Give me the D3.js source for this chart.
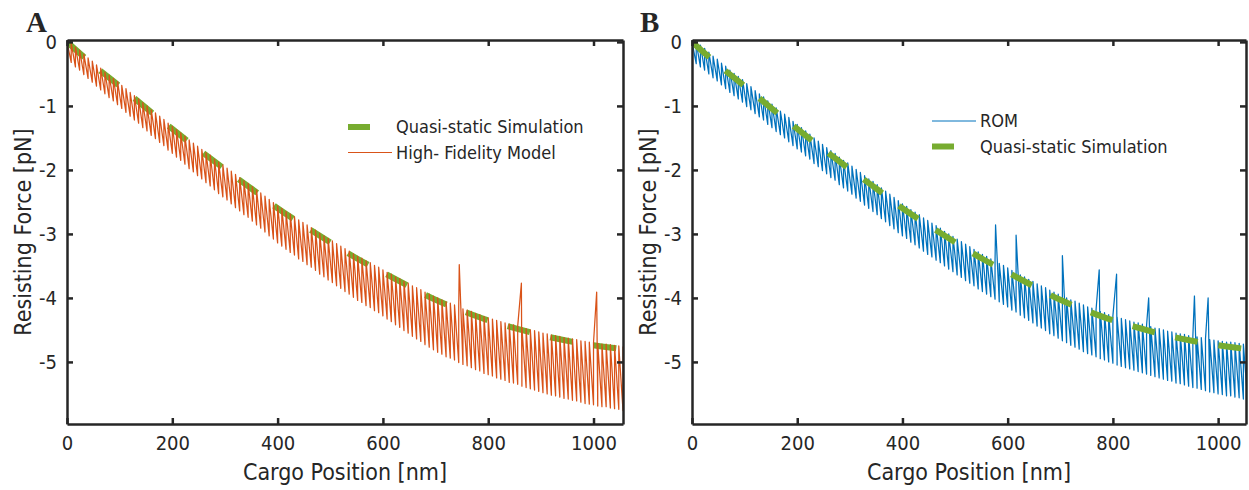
<!DOCTYPE html>
<html><head><meta charset="utf-8">
<script src="https://cdn.jsdelivr.net/npm/d3@7"></script>
<style>
body{margin:0;background:#fff}
svg{display:block}
text{font-family:'DejaVu Sans Condensed','DejaVu Sans',sans-serif;font-stretch:condensed;fill:#262626}
</style>
</head><body>
<svg id="chart" width="1249" height="490"></svg>
<script>
// ---------- data ----------
const stepNm = 8;   // motor step between teeth of the sawtooth
const xTicks = [0, 200, 400, 600, 800, 1000];
const xTickLabels = ["0", "200", "400", "600", "800", "1000"];
const yTicks = [0, -1, -2, -3, -4, -5];
const yTickLabels = ["0", "-1", "-2", "-3", "-4", "-5"];
const xLabel = "Cargo Position [nm]";
const yLabel = "Resisting Force [pN]";

const qsPosition = [0, 50, 100, 150, 200, 250, 300, 350, 400, 450, 500, 550, 600, 650, 700, 750, 800, 850, 900, 950, 1000, 1056];
const qsForce = [0, -0.36, -0.69, -1.03, -1.36, -1.68, -1.99, -2.29, -2.6, -2.87, -3.13, -3.38, -3.6, -3.82, -4.03, -4.2, -4.35, -4.47, -4.58, -4.67, -4.74, -4.8];

// High-fidelity model: force right after each step (top) and just before it (bottom)
const hfTop = [0,-0.02,-0.08,-0.13,-0.19,-0.25,-0.30,-0.36,-0.41,-0.47,
-0.52,-0.57,-0.62,-0.68,-0.73,-0.79,-0.84,-0.89,-0.95,-1.00,
-1.06,-1.11,-1.16,-1.21,-1.27,-1.32,-1.37,-1.42,-1.47,-1.53,
-1.58,-1.63,-1.68,-1.73,-1.77,-1.83,-1.88,-1.92,-1.97,-2.02,
-2.07,-2.12,-2.17,-2.21,-2.26,-2.31,-2.36,-2.41,-2.46,-2.51,
-2.56,-2.60,-2.65,-2.69,-2.73,-2.78,-2.82,-2.86,-2.90,-2.94,
-2.99,-3.03,-3.07,-3.11,-3.15,-3.19,-3.23,-3.27,-3.31,-3.35,
-3.38,-3.42,-3.45,-3.49,-3.52,-3.56,-3.60,-3.63,-3.67,-3.70,
-3.74,-3.77,-3.81,-3.84,-3.87,-3.91,-3.94,-3.97,-4.00,-4.03,
-4.06,-4.08,-4.11,-4.14,-4.17,-4.19,-4.21,-4.24,-4.26,-4.29,
-4.31,-4.33,-4.35,-4.37,-4.39,-4.41,-4.42,-4.44,-4.46,-4.48,
-4.50,-4.51,-4.53,-4.55,-4.56,-4.58,-4.59,-4.60,-4.62,-4.63,
-4.64,-4.65,-4.67,-4.68,-4.69,-4.70,-4.71,-4.72,-4.72,-4.73,
-4.74,-4.75,-4.76];
const hfBottom = [0,-0.32,-0.39,-0.44,-0.51,-0.57,-0.63,-0.69,-0.75,-0.81,
-0.87,-0.92,-0.98,-1.04,-1.10,-1.16,-1.22,-1.27,-1.34,-1.39,
-1.46,-1.51,-1.57,-1.62,-1.69,-1.74,-1.80,-1.85,-1.91,-1.98,
-2.03,-2.09,-2.14,-2.20,-2.25,-2.31,-2.37,-2.42,-2.47,-2.53,
-2.59,-2.64,-2.70,-2.74,-2.80,-2.86,-2.91,-2.97,-3.03,-3.08,
-3.14,-3.19,-3.24,-3.29,-3.33,-3.39,-3.43,-3.48,-3.52,-3.57,
-3.63,-3.67,-3.72,-3.76,-3.81,-3.85,-3.90,-3.94,-3.99,-4.04,
-4.07,-4.12,-4.15,-4.20,-4.23,-4.28,-4.33,-4.37,-4.42,-4.46,
-4.51,-4.55,-4.60,-4.64,-4.68,-4.73,-4.77,-4.81,-4.85,-4.88,
-4.92,-4.94,-4.97,-5.01,-5.04,-5.06,-5.09,-5.12,-5.14,-5.18,
-5.20,-5.22,-5.25,-5.27,-5.29,-5.32,-5.33,-5.35,-5.38,-5.40,
-5.42,-5.44,-5.46,-5.48,-5.50,-5.52,-5.53,-5.55,-5.57,-5.58,
-5.60,-5.61,-5.63,-5.65,-5.66,-5.67,-5.69,-5.70,-5.70,-5.72,
-5.73,-5.74,-5.76];
const hfSpikePos = [745, 863, 1006];
const hfSpikeForce = [-3.48, -3.77, -3.91];

// ROM
const romTop = [0,-0.01,-0.05,-0.10,-0.16,-0.22,-0.27,-0.33,-0.38,-0.44,
-0.49,-0.54,-0.59,-0.65,-0.70,-0.76,-0.81,-0.86,-0.92,-0.97,
-1.03,-1.08,-1.13,-1.18,-1.24,-1.29,-1.34,-1.39,-1.44,-1.50,
-1.55,-1.60,-1.65,-1.70,-1.74,-1.80,-1.85,-1.89,-1.94,-1.99,
-2.04,-2.09,-2.14,-2.18,-2.23,-2.28,-2.33,-2.38,-2.43,-2.48,
-2.53,-2.57,-2.62,-2.66,-2.70,-2.75,-2.79,-2.83,-2.87,-2.91,
-2.96,-3.00,-3.04,-3.08,-3.12,-3.16,-3.20,-3.24,-3.28,-3.32,
-3.35,-3.39,-3.42,-3.46,-3.49,-3.53,-3.57,-3.60,-3.64,-3.67,
-3.71,-3.74,-3.78,-3.81,-3.84,-3.88,-3.91,-3.94,-3.97,-4.00,
-4.03,-4.05,-4.08,-4.11,-4.14,-4.16,-4.18,-4.21,-4.23,-4.26,
-4.28,-4.30,-4.32,-4.34,-4.36,-4.38,-4.39,-4.41,-4.43,-4.45,
-4.47,-4.48,-4.50,-4.52,-4.53,-4.55,-4.56,-4.57,-4.59,-4.60,
-4.61,-4.62,-4.64,-4.65,-4.66,-4.67,-4.68,-4.69,-4.69,-4.70,
-4.71,-4.72,-4.73];
const romBottom = [0,-0.34,-0.39,-0.44,-0.50,-0.56,-0.61,-0.67,-0.73,-0.79,
-0.84,-0.89,-0.94,-1.01,-1.06,-1.12,-1.17,-1.22,-1.29,-1.34,
-1.40,-1.45,-1.50,-1.56,-1.62,-1.67,-1.72,-1.78,-1.83,-1.90,
-1.95,-2.01,-2.06,-2.12,-2.16,-2.23,-2.28,-2.33,-2.38,-2.44,
-2.49,-2.55,-2.60,-2.65,-2.70,-2.76,-2.81,-2.87,-2.92,-2.98,
-3.03,-3.07,-3.13,-3.17,-3.22,-3.27,-3.32,-3.36,-3.41,-3.45,
-3.50,-3.55,-3.59,-3.64,-3.68,-3.73,-3.77,-3.81,-3.86,-3.90,
-3.94,-3.98,-4.02,-4.06,-4.10,-4.14,-4.19,-4.22,-4.27,-4.31,
-4.35,-4.39,-4.44,-4.47,-4.51,-4.56,-4.59,-4.63,-4.67,-4.70,
-4.74,-4.77,-4.80,-4.84,-4.87,-4.89,-4.92,-4.95,-4.97,-5.00,
-5.02,-5.05,-5.07,-5.09,-5.11,-5.13,-5.15,-5.17,-5.19,-5.21,
-5.23,-5.25,-5.27,-5.29,-5.30,-5.33,-5.34,-5.36,-5.38,-5.40,
-5.41,-5.43,-5.45,-5.47,-5.48,-5.50,-5.51,-5.53,-5.53,-5.55,
-5.56,-5.58,-5.59];
const romSpikePos = [577, 616, 704, 774, 807, 868, 955, 981];
const romSpikeForce = [-2.86, -3.02, -3.34, -3.56, -3.63, -4.0, -3.97, -4.0];

// ---------- drawing ----------
const COL = {orange:"#D95319", blue:"#0072BD", green:"#77AC30", axis:"#262626"};
const svg = d3.select("#chart");

function sawPoints(top, bottom, sPos, sVal){
  const pts = [[0, top[0]]];
  for (let i = 1; i < top.length; i++){
    pts.push([i*stepNm, bottom[i]]);
    pts.push([i*stepNm, top[i]]);
  }
  sPos.forEach((sx, k) => {
    let idx = pts.findIndex(p => p[0] > sx);
    if (idx < 0) idx = pts.length;
    pts.splice(idx, 0, [sx, sVal[k]]);
  });
  return pts;
}

function panel(cfg){
  const x = d3.scaleLinear().domain([0, cfg.xmax]).range([cfg.left, cfg.right]);
  const y = d3.scaleLinear().domain([-5.97, 0.03]).range([424, 40]);
  const g = svg.append("g");
  const clipId = "clip" + cfg.name;
  svg.append("clipPath").attr("id", clipId).append("rect")
    .attr("x", cfg.left).attr("y", 40).attr("width", cfg.right - cfg.left).attr("height", 384);
  const plot = g.append("g").attr("clip-path", `url(#${clipId})`);
  const line = d3.line().x(d => x(d[0])).y(d => y(d[1]));
  const qs = qsPosition.map((p, i) => [p, qsForce[i]]);
  const saw = sawPoints(cfg.top, cfg.bottom, cfg.spx, cfg.spy);
  const drawQs = () => plot.append("path").attr("d", d3.line().curve(d3.curveMonotoneX).x(d => x(d[0])).y(d => y(d[1]))(qs))
      .attr("fill","none").attr("stroke",COL.green).attr("stroke-width",6).attr("stroke-dasharray","23,21");
  const drawSaw = () => plot.append("path").attr("d", line(saw))
      .attr("fill","none").attr("stroke",cfg.color).attr("stroke-width",1.25).attr("stroke-linejoin","round");
  if (cfg.qsFirst){ drawQs(); drawSaw(); } else { drawSaw(); drawQs(); }

  // axes (box with inward ticks)
  const fmtX = d => xTickLabels[xTicks.indexOf(d)];
  const fmtY = d => yTickLabels[yTicks.indexOf(d)];
  const styleAxis = a => { a.selectAll("path.domain").attr("stroke",COL.axis).attr("stroke-width",2.5);
    a.selectAll(".tick line").attr("stroke",COL.axis).attr("stroke-width",2.5);
    a.selectAll("text").attr("fill",COL.axis).style("font-size","20px").attr("font-family",null); };
  const ax1 = g.append("g").attr("transform","translate(0,424)")
    .call(d3.axisBottom(x).tickValues(xTicks).tickFormat(fmtX).tickSizeInner(-6).tickSizeOuter(0).tickPadding(12));
  styleAxis(ax1);
  const ax2 = g.append("g").attr("transform","translate(0,40)")
    .call(d3.axisTop(x).tickValues(xTicks).tickFormat("").tickSizeInner(-6).tickSizeOuter(0));
  styleAxis(ax2);
  const ay1 = g.append("g").attr("transform",`translate(${cfg.left},0)`)
    .call(d3.axisLeft(y).tickValues(yTicks).tickFormat(fmtY).tickSizeInner(-6).tickSizeOuter(0).tickPadding(10));
  styleAxis(ay1);
  const ay2 = g.append("g").attr("transform",`translate(${cfg.right},0)`)
    .call(d3.axisRight(y).tickValues(yTicks).tickFormat("").tickSizeInner(-6).tickSizeOuter(0));
  styleAxis(ay2);

  // titles
  g.append("text").attr("x",(cfg.left+cfg.right)/2).attr("y",480).attr("text-anchor","middle")
    .style("font-size","23px").text(xLabel);
  g.append("text").attr("transform",`translate(${cfg.left-36},232) rotate(-90)`).attr("text-anchor","middle")
    .style("font-size","23px").text(yLabel);
  g.append("text").attr("x",cfg.letterX).attr("y",32).text(cfg.name)
    .style("font-family","'Liberation Serif','Times New Roman',serif").style("font-weight","bold").style("font-size","29px").style("font-stretch","normal").attr("fill","#000");

  // legend
  const lg = g.append("g");
  cfg.legend.forEach((it, k) => {
    const yy = cfg.legY + k*25.5;
    if (it.type === "qs"){
      lg.append("line").attr("x1",cfg.legX).attr("x2",cfg.legX+44).attr("y1",yy).attr("y2",yy)
        .attr("stroke",COL.green).attr("stroke-width",6).attr("stroke-dasharray","22,30");
    } else {
      lg.append("line").attr("x1",cfg.legX).attr("x2",cfg.legX+44).attr("y1",yy).attr("y2",yy)
        .attr("stroke",cfg.color).attr("stroke-width",1);
    }
    lg.append("text").attr("x",cfg.legX+48).attr("y",yy).attr("dy","0.35em").style("font-size","18px").text(it.label);
  });
}

panel({name:"A", left:67, right:623, xmax:1056, top:hfTop, bottom:hfBottom, spx:hfSpikePos, spy:hfSpikeForce,
  color:COL.orange, qsFirst:true, letterX:26, legX:348, legY:127,
  legend:[{type:"qs",label:"Quasi-static Simulation"},{type:"line",label:"High- Fidelity Model"}]});
panel({name:"B", left:692, right:1246, xmax:1053, top:romTop, bottom:romBottom, spx:romSpikePos, spy:romSpikeForce,
  color:COL.blue, qsFirst:false, letterX:640, legX:932, legY:121,
  legend:[{type:"line",label:"ROM"},{type:"qs",label:"Quasi-static Simulation"}]});
</script>
</body></html>
